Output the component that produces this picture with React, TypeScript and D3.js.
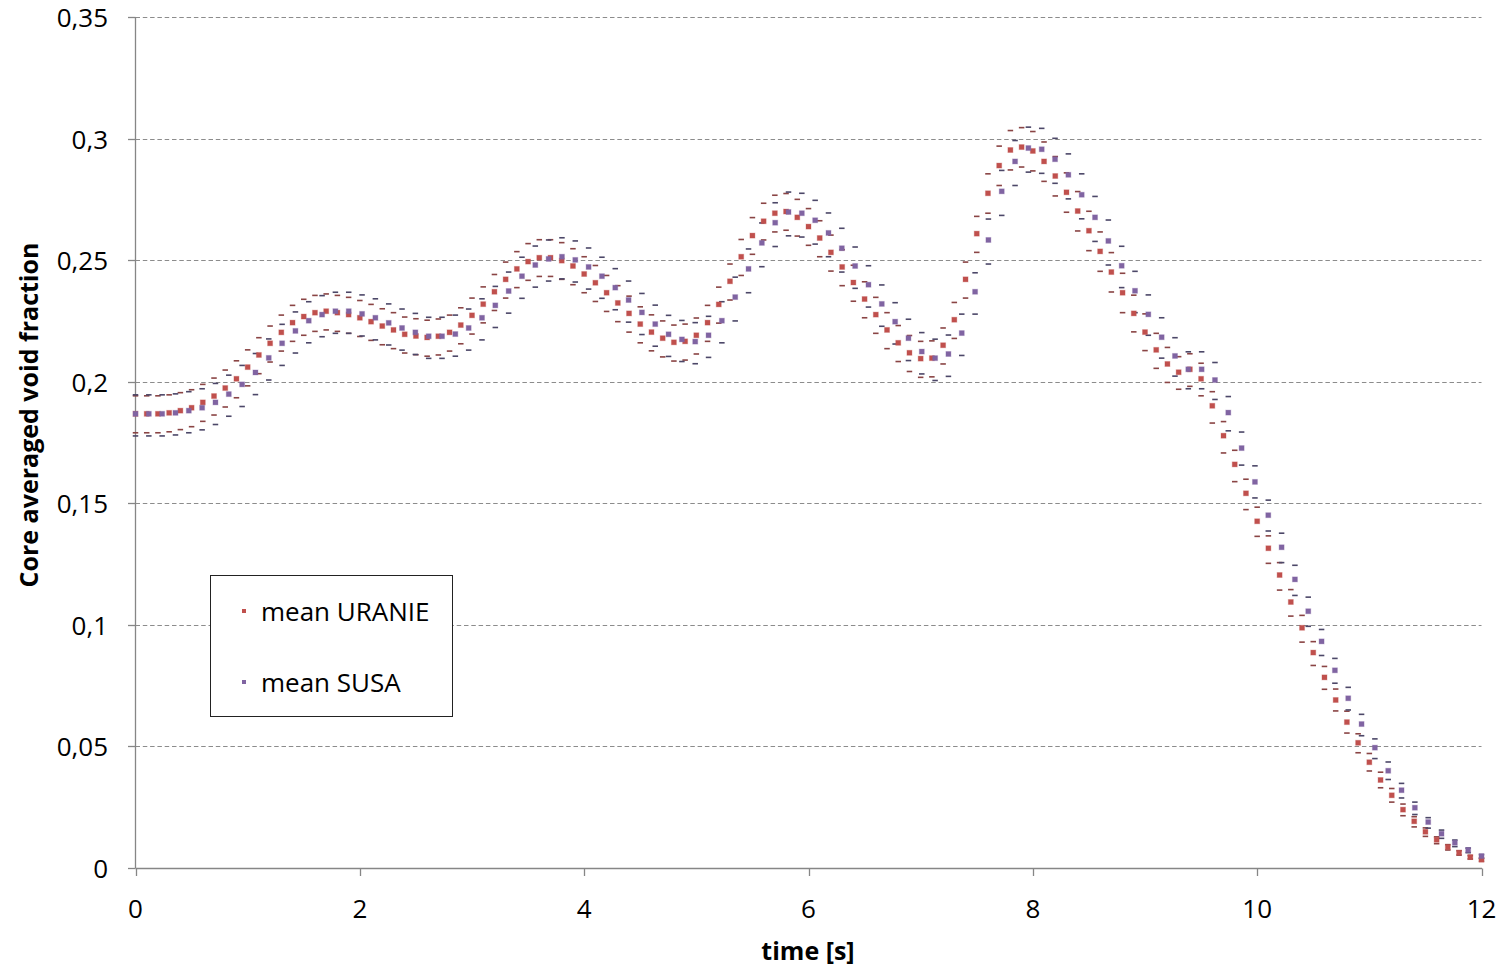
import React from "react";
import * as d3 from "d3";

// ---- DATA ----
// mean URANIE, sampled every 0.1 s from 0 to 12 s
const uranieMean = [
  0.1868, 0.1868, 0.1868, 0.1872, 0.1881, 0.1893, 0.1915, 0.1941, 0.1974, 0.2012,
  0.2060, 0.2110, 0.2158, 0.2203, 0.2243, 0.2268, 0.2284, 0.2290, 0.2284, 0.2276,
  0.2263, 0.2247, 0.2229, 0.2213, 0.2195, 0.2188, 0.2182, 0.2187, 0.2203, 0.2233,
  0.2273, 0.2319, 0.2370, 0.2421, 0.2464, 0.2494, 0.2510, 0.2510, 0.2498, 0.2476,
  0.2443, 0.2407, 0.2366, 0.2324, 0.2281, 0.2237, 0.2204, 0.2179, 0.2162, 0.2166,
  0.2191, 0.2243, 0.2318, 0.2413, 0.2514, 0.2601, 0.2660, 0.2693, 0.2700, 0.2676,
  0.2638, 0.2591, 0.2532, 0.2472, 0.2408, 0.2340, 0.2276, 0.2213, 0.2160, 0.2119,
  0.2095, 0.2097, 0.2150, 0.2255, 0.2421, 0.2609, 0.2775, 0.2889, 0.2953, 0.2965,
  0.2949, 0.2906, 0.2846, 0.2779, 0.2702, 0.2621, 0.2536, 0.2451, 0.2366, 0.2281,
  0.2204, 0.2131, 0.2073, 0.2039, 0.2051, 0.2012, 0.1901, 0.1778, 0.1660, 0.1541,
  0.1426, 0.1315, 0.1205, 0.1094, 0.0988, 0.0886, 0.0784, 0.0691, 0.0600, 0.0515,
  0.0435, 0.0362, 0.0299, 0.0240, 0.0192, 0.0149, 0.0116, 0.0086, 0.0063, 0.0045,
  0.0034,
];
const uranieErrUp = [
  0.0074, 0.0074, 0.0074, 0.0074, 0.0074, 0.0074, 0.0074, 0.0074, 0.0074, 0.0074,
  0.0071, 0.0071, 0.0071, 0.0071, 0.0071, 0.0071, 0.0071, 0.0071, 0.0071, 0.0071,
  0.0071, 0.0071, 0.0071, 0.0071, 0.0071, 0.0071, 0.0071, 0.0071, 0.0071, 0.0071,
  0.0071, 0.0071, 0.0071, 0.0071, 0.0071, 0.0074, 0.0074, 0.0074, 0.0074, 0.0071,
  0.0071, 0.0071, 0.0071, 0.0071, 0.0071, 0.0071, 0.0071, 0.0071, 0.0071, 0.0071,
  0.0071, 0.0071, 0.0071, 0.0071, 0.0071, 0.0074, 0.0074, 0.0074, 0.0074, 0.0074,
  0.0074, 0.0071, 0.0071, 0.0071, 0.0071, 0.0071, 0.0071, 0.0071, 0.0071, 0.0071,
  0.0071, 0.0071, 0.0071, 0.0071, 0.0071, 0.0071, 0.0080, 0.0080, 0.0080, 0.0080,
  0.0080, 0.0080, 0.0080, 0.0080, 0.0080, 0.0080, 0.0080, 0.0080, 0.0080, 0.0075,
  0.0075, 0.0068, 0.0068, 0.0064, 0.0064, 0.0064, 0.0058, 0.0058, 0.0058, 0.0058,
  0.0058, 0.0051, 0.0051, 0.0051, 0.0051, 0.0045, 0.0045, 0.0045, 0.0045, 0.0037,
  0.0036, 0.0032, 0.0028, 0.0023, 0.0019, 0.0016, 0.0012, 0.0010, 0.0008, 0.0006,
  0.0004,
];
const uranieErrDown = [
  0.0078, 0.0078, 0.0078, 0.0078, 0.0078, 0.0078, 0.0078, 0.0078, 0.0078, 0.0078,
  0.0077, 0.0077, 0.0077, 0.0077, 0.0077, 0.0077, 0.0077, 0.0077, 0.0077, 0.0077,
  0.0077, 0.0077, 0.0077, 0.0077, 0.0077, 0.0077, 0.0077, 0.0077, 0.0077, 0.0077,
  0.0077, 0.0077, 0.0077, 0.0077, 0.0077, 0.0077, 0.0077, 0.0077, 0.0077, 0.0077,
  0.0077, 0.0077, 0.0077, 0.0077, 0.0077, 0.0077, 0.0077, 0.0077, 0.0077, 0.0077,
  0.0077, 0.0077, 0.0077, 0.0077, 0.0077, 0.0077, 0.0077, 0.0077, 0.0077, 0.0077,
  0.0077, 0.0077, 0.0077, 0.0077, 0.0077, 0.0077, 0.0077, 0.0077, 0.0077, 0.0077,
  0.0077, 0.0077, 0.0077, 0.0077, 0.0077, 0.0077, 0.0082, 0.0082, 0.0082, 0.0082,
  0.0082, 0.0082, 0.0082, 0.0082, 0.0082, 0.0082, 0.0082, 0.0082, 0.0082, 0.0076,
  0.0076, 0.0076, 0.0076, 0.0070, 0.0070, 0.0070, 0.0071, 0.0071, 0.0071, 0.0067,
  0.0062, 0.0062, 0.0062, 0.0058, 0.0059, 0.0053, 0.0049, 0.0045, 0.0045, 0.0041,
  0.0036, 0.0032, 0.0028, 0.0025, 0.0023, 0.0019, 0.0016, 0.0012, 0.0010, 0.0008,
  0.0006,
];

// mean SUSA, 102 samples evenly spaced from 0 to 12 s
const susaMean = [
  0.1868, 0.1868, 0.1868, 0.1872, 0.1881, 0.1893, 0.1915, 0.1949, 0.1989, 0.2038,
  0.2098, 0.2158, 0.2209, 0.2251, 0.2276, 0.2290, 0.2290, 0.2279, 0.2263, 0.2242,
  0.2221, 0.2203, 0.2187, 0.2187, 0.2196, 0.2221, 0.2263, 0.2314, 0.2373, 0.2434,
  0.2480, 0.2505, 0.2514, 0.2501, 0.2472, 0.2434, 0.2387, 0.2336, 0.2285, 0.2237,
  0.2195, 0.2174, 0.2165, 0.2191, 0.2251, 0.2348, 0.2464, 0.2571, 0.2654, 0.2698,
  0.2693, 0.2664, 0.2612, 0.2549, 0.2476, 0.2399, 0.2320, 0.2247, 0.2179, 0.2124,
  0.2097, 0.2114, 0.2200, 0.2370, 0.2583, 0.2783, 0.2906, 0.2961, 0.2956, 0.2915,
  0.2851, 0.2769, 0.2676, 0.2579, 0.2477, 0.2374, 0.2277, 0.2183, 0.2106, 0.2051,
  0.2051, 0.2007, 0.1873, 0.1727, 0.1588, 0.1451, 0.1319, 0.1187, 0.1056, 0.0932,
  0.0813, 0.0698, 0.0592, 0.0495, 0.0400, 0.0320, 0.0248, 0.0189, 0.0141, 0.0104,
  0.0074, 0.0049,
];
const susaErrUp = [
  0.0078, 0.0078, 0.0078, 0.0078, 0.0078, 0.0078, 0.0078, 0.0078, 0.0078, 0.0078,
  0.0078, 0.0078, 0.0078, 0.0078, 0.0078, 0.0078, 0.0078, 0.0078, 0.0078, 0.0078,
  0.0078, 0.0078, 0.0078, 0.0078, 0.0078, 0.0078, 0.0078, 0.0078, 0.0078, 0.0078,
  0.0078, 0.0078, 0.0078, 0.0078, 0.0078, 0.0078, 0.0078, 0.0078, 0.0078, 0.0078,
  0.0078, 0.0078, 0.0078, 0.0078, 0.0078, 0.0082, 0.0082, 0.0082, 0.0082, 0.0082,
  0.0082, 0.0082, 0.0082, 0.0082, 0.0078, 0.0078, 0.0078, 0.0078, 0.0078, 0.0078,
  0.0078, 0.0078, 0.0078, 0.0078, 0.0086, 0.0086, 0.0086, 0.0086, 0.0086, 0.0086,
  0.0086, 0.0086, 0.0086, 0.0086, 0.0080, 0.0080, 0.0080, 0.0080, 0.0075, 0.0072,
  0.0072, 0.0072, 0.0066, 0.0066, 0.0066, 0.0062, 0.0058, 0.0058, 0.0058, 0.0049,
  0.0049, 0.0045, 0.0040, 0.0036, 0.0036, 0.0028, 0.0023, 0.0018, 0.0015, 0.0011,
  0.0008, 0.0006,
];
const susaErrDown = [
  0.0091, 0.0091, 0.0091, 0.0091, 0.0091, 0.0091, 0.0091, 0.0091, 0.0091, 0.0091,
  0.0091, 0.0091, 0.0091, 0.0091, 0.0091, 0.0091, 0.0091, 0.0091, 0.0091, 0.0091,
  0.0091, 0.0091, 0.0091, 0.0091, 0.0091, 0.0091, 0.0091, 0.0091, 0.0091, 0.0091,
  0.0091, 0.0091, 0.0091, 0.0091, 0.0091, 0.0091, 0.0091, 0.0091, 0.0091, 0.0091,
  0.0091, 0.0091, 0.0091, 0.0091, 0.0091, 0.0098, 0.0098, 0.0098, 0.0098, 0.0098,
  0.0098, 0.0098, 0.0098, 0.0098, 0.0092, 0.0092, 0.0092, 0.0092, 0.0092, 0.0092,
  0.0092, 0.0092, 0.0092, 0.0092, 0.0099, 0.0099, 0.0099, 0.0099, 0.0099, 0.0099,
  0.0099, 0.0099, 0.0099, 0.0099, 0.0090, 0.0090, 0.0086, 0.0086, 0.0083, 0.0080,
  0.0080, 0.0080, 0.0075, 0.0070, 0.0066, 0.0065, 0.0063, 0.0066, 0.0062, 0.0058,
  0.0053, 0.0048, 0.0048, 0.0045, 0.0036, 0.0032, 0.0028, 0.0025, 0.0019, 0.0016,
  0.0011, 0.0008,
];

const yTicks = [0, 0.05, 0.1, 0.15, 0.2, 0.25, 0.3, 0.35];
const xTicks = [0, 2, 4, 6, 8, 10, 12];
const seriesNames = ["mean URANIE", "mean SUSA"];
const seriesColors = ["#C0504D", "#8064A2"];
const capColors = ["#8a4444", "#4c4768"];

const W = 1505;
const H = 967;
const FONT = "'Open Sans', 'Segoe UI', sans-serif";

export default function App() {
  const x = d3.scaleLinear().domain([0, 12]).range([135.5, 1481.5]);
  const y = d3.scaleLinear().domain([0, 0.35]).range([868, 17]);

  const uranieT = uranieMean.map((_, i) => (i * 12) / (uranieMean.length - 1));
  const susaT = susaMean.map((_, i) => (i * 12) / (susaMean.length - 1));

  const series = [
    { t: uranieT, m: uranieMean, up: uranieErrUp, dn: uranieErrDown },
    { t: susaT, m: susaMean, up: susaErrUp, dn: susaErrDown },
  ];

  const fmt = (v: number) => String(v).replace(".", ",");
  const capW = 5.5;
  const capH = 1.6;
  const ms = 5;

  return (
    <svg
      width={W}
      height={H}
      style={{ position: "absolute", left: 0, top: 0, background: "#fff" }}
      fontFamily={FONT}
    >
      <rect x={0} y={0} width={W} height={H} fill="#fff" />
      {/* gridlines */}
      {yTicks.filter((v) => v > 0).map((v) => (
        <line
          key={"g" + v}
          x1={x(0)}
          x2={x(12)}
          y1={Math.round(y(v)) + 0.5}
          y2={Math.round(y(v)) + 0.5}
          stroke="#8c8c8c"
          strokeWidth={1}
          strokeDasharray="4.5,2.8"
        />
      ))}
      {/* axes */}
      <line x1={135.5} x2={135.5} y1={y(0.35)} y2={y(0)} stroke="#868686" strokeWidth={1.3} />
      <line x1={135.5} x2={1482} y1={868.5} y2={868.5} stroke="#868686" strokeWidth={1.3} />
      {yTicks.map((v) => (
        <line key={"yt" + v} x1={128} x2={135.5} y1={Math.round(y(v)) + 0.5} y2={Math.round(y(v)) + 0.5} stroke="#868686" strokeWidth={1.3} />
      ))}
      {xTicks.map((v) => (
        <line key={"xt" + v} x1={Math.round(x(v)) + 0.5} x2={Math.round(x(v)) + 0.5} y1={868.5} y2={876} stroke="#868686" strokeWidth={1.3} />
      ))}
      {/* tick labels */}
      {yTicks.map((v) => (
        <text key={"yl" + v} x={108} y={y(v)} textAnchor="end" dominantBaseline="central" fontSize={26} fill="#000">
          {fmt(v)}
        </text>
      ))}
      {xTicks.map((v) => (
        <text key={"xl" + v} x={x(v)} y={908} textAnchor="middle" dominantBaseline="central" fontSize={26} fill="#000">
          {v}
        </text>
      ))}
      {/* axis titles */}
      <text
        transform={`translate(28,415) rotate(-90)`}
        textAnchor="middle"
        dominantBaseline="central"
        fontSize={25}
        fontWeight="bold"
        fill="#000"
      >
        Core averaged void fraction
      </text>
      <text x={808} y={950} textAnchor="middle" dominantBaseline="central" fontSize={25} fontWeight="bold" fill="#000">
        time [s]
      </text>
      {/* error caps */}
      {series.map((s, si) =>
        s.m.map((m, i) => (
          <g key={"c" + si + "-" + i} fill={capColors[si]}>
            <rect x={x(s.t[i]) - capW / 2} y={y(m + s.up[i]) - capH / 2} width={capW} height={capH} />
            <rect x={x(s.t[i]) - capW / 2} y={y(m - s.dn[i]) - capH / 2} width={capW} height={capH} />
          </g>
        ))
      )}
      {/* mean markers */}
      {series.map((s, si) =>
        s.m.map((m, i) => (
          <rect
            key={"m" + si + "-" + i}
            x={x(s.t[i]) - ms / 2}
            y={y(m) - ms / 2}
            width={ms}
            height={ms}
            fill={seriesColors[si]}
            stroke={seriesColors[si]}
            strokeOpacity={0.3}
            strokeWidth={1}
          />
        ))
      )}
      {/* legend */}
      <rect x={210.5} y={575.5} width={242} height={141} fill="#fff" stroke="#222" strokeWidth={1} />
      {seriesNames.map((name, i) => (
        <g key={"lg" + i}>
          <rect x={242} y={609 + i * 71} width={4} height={4} fill={seriesColors[i]} />
          <text x={261} y={611 + i * 71} dominantBaseline="central" fontSize={26} fill="#000">
            {name}
          </text>
        </g>
      ))}
    </svg>
  );
}
